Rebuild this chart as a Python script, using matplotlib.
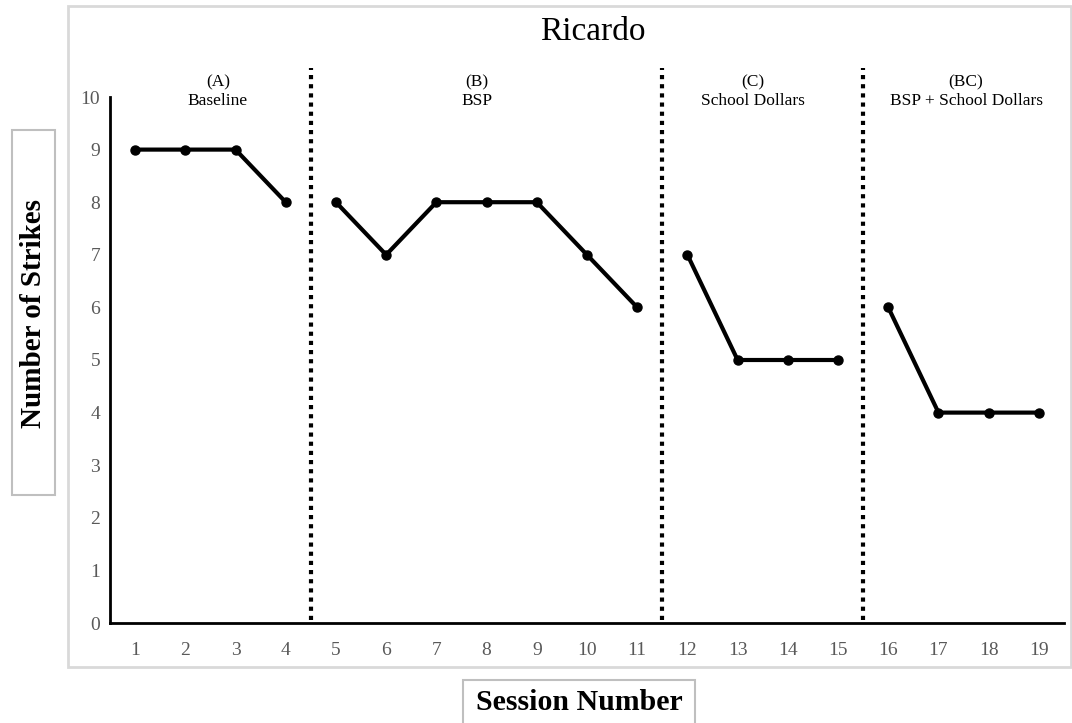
import matplotlib.pyplot as plt
from matplotlib.patches import Rectangle

plt.rcParams['font.family'] = ['Liberation Serif', 'DejaVu Serif']

sessions = list(range(1, 20))
phase_sessions = [[1, 2, 3, 4], [5, 6, 7, 8, 9, 10, 11], [12, 13, 14, 15], [16, 17, 18, 19]]
phase_strikes = [[9, 9, 9, 8], [8, 7, 8, 8, 8, 7, 6], [7, 5, 5, 5], [6, 4, 4, 4]]
phase_names = [("(A)", "Baseline"), ("(B)", "BSP"), ("(C)", "School Dollars"),
               ("(BC)", "BSP + School Dollars")]
phase_label_x = [2.65, 7.8, 13.3, 17.55]
phase_changes = [4.5, 11.5, 15.5]

fig = plt.figure(figsize=(10.72, 7.23), dpi=100)
W, H = 1072, 723

# outer chart border
fig.patches.append(Rectangle((68 / W, 1 - 667 / H), (1071 - 68) / W, (667 - 6) / H,
                             transform=fig.transFigure, fill=False,
                             edgecolor='#d9d9d9', linewidth=2))
# axis title boxes
fig.patches.append(Rectangle((12 / W, 1 - 495 / H), 43 / W, 365 / H,
                             transform=fig.transFigure, fill=False,
                             edgecolor='#bfbfbf', linewidth=1.5))
fig.patches.append(Rectangle((463 / W, 1 - 725 / H), 232 / W, 45 / H,
                             transform=fig.transFigure, fill=False,
                             edgecolor='#bfbfbf', linewidth=1.5))

ax = fig.add_axes([110 / W, 1 - 623 / H, (1064 - 110) / W, (623 - 97) / H])

for xs, ys in zip(phase_sessions, phase_strikes):
    ax.plot(xs, ys, color='black', linewidth=3, marker='o', markersize=6.5, clip_on=False)

for xc in phase_changes:
    ax.plot([xc, xc], [0.05, 10.55], color='black', linestyle=(0, (1, 1.2)),
            linewidth=3, clip_on=False)

for xl, (code, name) in zip(phase_label_x, phase_names):
    ax.text(xl, 10.285, code, ha='center', va='center', fontsize=12.5)
    ax.text(xl, 9.93, name, ha='center', va='center', fontsize=12.5)

ax.set_xlim(0.5, 19.5)
ax.set_ylim(0, 10)
ax.set_xticks(sessions)
ax.set_yticks(range(0, 11))
ax.tick_params(length=0, labelsize=14, labelcolor='#595959', pad=14)
ax.tick_params(axis='y', pad=7)
for side in ['top', 'right']:
    ax.spines[side].set_visible(False)
for side in ['left', 'bottom']:
    ax.spines[side].set_linewidth(2)

fig.text(593 / W, 1 - 32 / H, "Ricardo", ha='center', va='center', fontsize=24)
fig.text(34 / W, 1 - 313 / H, "Number of Strikes", ha='center', va='center',
         rotation=90, fontsize=21, fontweight='bold')
fig.text(579 / W, 1 - 703 / H, "Session Number", ha='center', va='center',
         fontsize=21.5, fontweight='bold')

fig.savefig("out.png", dpi=100)
